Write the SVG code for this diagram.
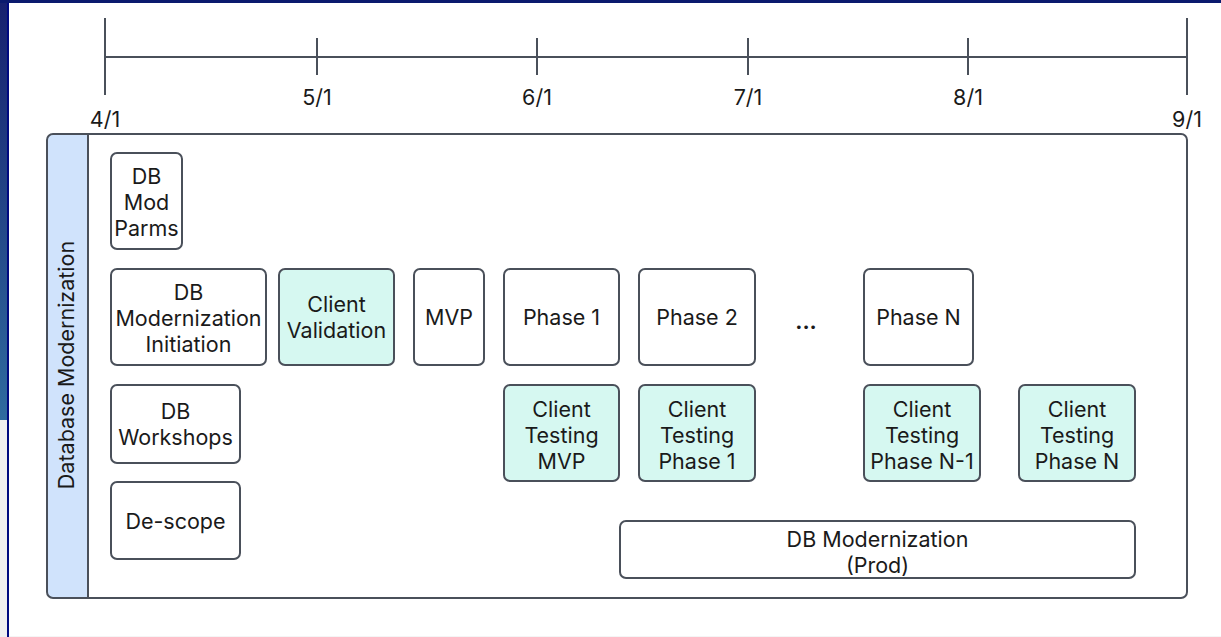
<svg xmlns="http://www.w3.org/2000/svg" width="1221" height="637" viewBox="0 0 1221 637">
  <defs>
    <linearGradient id="sideGrad" x1="0" y1="0" x2="0" y2="1">
      <stop offset="0" stop-color="#17206f"/>
      <stop offset="1" stop-color="#2f6b9f"/>
    </linearGradient>
    <style>
      .axis { stroke: #4a505a; stroke-width: 2; fill: none; }
      .node { stroke: #4a505a; stroke-width: 2; fill: #ffffff; }
      .client { fill: #d6f8f1; }
      .lbl { font-family: Inter, "Liberation Sans", sans-serif; font-size: 21.5px; fill: #1a1a1a; text-anchor: middle; }
    </style>
  </defs>

  <!-- page background and frame -->
  <rect x="0" y="0" width="1221" height="637" fill="#ffffff"/>
  <rect x="0" y="0" width="7" height="420" fill="url(#sideGrad)"/>
  <rect x="0" y="420" width="7" height="217" fill="#f0f0f0"/>
  <rect x="7" y="0" width="2" height="637" fill="#000a80"/>
  <rect x="0" y="0" width="1221" height="3" fill="#0b1a6e"/>
  <rect x="9" y="636" width="1212" height="1" fill="#f5f5f5"/>

  <!-- timeline -->
  <g id="timeline">
    <line class="axis" x1="105" y1="57" x2="1187" y2="57"/>
    <line class="axis" x1="105" y1="18" x2="105" y2="95"/>
    <line class="axis" x1="317" y1="38" x2="317" y2="75"/>
    <line class="axis" x1="537" y1="38" x2="537" y2="75"/>
    <line class="axis" x1="748" y1="38" x2="748" y2="75"/>
    <line class="axis" x1="968" y1="38" x2="968" y2="75"/>
    <line class="axis" x1="1187" y1="18" x2="1187" y2="95"/>
    <text class="lbl" x="105" y="127">4/1</text>
    <text class="lbl" x="317" y="105">5/1</text>
    <text class="lbl" x="537" y="105">6/1</text>
    <text class="lbl" x="748" y="105">7/1</text>
    <text class="lbl" x="968" y="105">8/1</text>
    <text class="lbl" x="1187" y="127">9/1</text>
  </g>

  <!-- swimlane -->
  <g id="lane">
    <path d="M88 134 H53 Q47 134 47 140 V592 Q47 598 53 598 H88 Z" fill="#d0e3fc"/>
    <rect class="axis" x="47" y="134" width="1140" height="464" rx="6"/>
    <line class="axis" x1="88" y1="134" x2="88" y2="598"/>
    <text class="lbl" transform="translate(74 365) rotate(-90)">Database Modernization</text>
  </g>

  <g id="connectors"></g>

  <g id="db-mod-parms">
    <rect class="node" x="111" y="153" width="71" height="96" rx="6"/>
    <text class="lbl" x="146.5" y="184">DB</text>
    <text class="lbl" x="146.5" y="210">Mod</text>
    <text class="lbl" x="146.5" y="236">Parms</text>
  </g>
  <g id="db-mod-initiation">
    <rect class="node" x="111" y="269" width="155" height="96" rx="6"/>
    <text class="lbl" x="188.5" y="300">DB</text>
    <text class="lbl" x="188.5" y="326">Modernization</text>
    <text class="lbl" x="188.5" y="352">Initiation</text>
  </g>
  <g id="client-validation">
    <rect class="node client" x="279" y="269" width="115" height="96" rx="6"/>
    <text class="lbl" x="336.5" y="312">Client</text>
    <text class="lbl" x="336.5" y="338">Validation</text>
  </g>
  <g id="mvp">
    <rect class="node" x="414" y="269" width="70" height="96" rx="6"/>
    <text class="lbl" x="449" y="325">MVP</text>
  </g>
  <g id="phase-1">
    <rect class="node" x="504" y="269" width="115" height="96" rx="6"/>
    <text class="lbl" x="561.5" y="325">Phase 1</text>
  </g>
  <g id="phase-2">
    <rect class="node" x="639" y="269" width="116" height="96" rx="6"/>
    <text class="lbl" x="697" y="325">Phase 2</text>
  </g>
  <g id="ellipsis">
    <text class="lbl" x="806" y="329" font-weight="bold">...</text>
  </g>
  <g id="phase-n">
    <rect class="node" x="864" y="269" width="109" height="96" rx="6"/>
    <text class="lbl" x="918.5" y="325">Phase N</text>
  </g>
  <g id="db-workshops">
    <rect class="node" x="111" y="385" width="129" height="78" rx="6"/>
    <text class="lbl" x="175.5" y="419">DB</text>
    <text class="lbl" x="175.5" y="445">Workshops</text>
  </g>
  <g id="client-testing-mvp">
    <rect class="node client" x="504" y="385" width="115" height="96" rx="6"/>
    <text class="lbl" x="561.5" y="417">Client</text>
    <text class="lbl" x="561.5" y="443">Testing</text>
    <text class="lbl" x="561.5" y="469">MVP</text>
  </g>
  <g id="client-testing-phase-1">
    <rect class="node client" x="639" y="385" width="116" height="96" rx="6"/>
    <text class="lbl" x="697" y="417">Client</text>
    <text class="lbl" x="697" y="443">Testing</text>
    <text class="lbl" x="697" y="469">Phase 1</text>
  </g>
  <g id="client-testing-phase-n-1">
    <rect class="node client" x="864" y="385" width="116" height="96" rx="6"/>
    <text class="lbl" x="922" y="417">Client</text>
    <text class="lbl" x="922" y="443">Testing</text>
    <text class="lbl" x="922" y="469">Phase N-1</text>
  </g>
  <g id="client-testing-phase-n">
    <rect class="node client" x="1019" y="385" width="116" height="96" rx="6"/>
    <text class="lbl" x="1077" y="417">Client</text>
    <text class="lbl" x="1077" y="443">Testing</text>
    <text class="lbl" x="1077" y="469">Phase N</text>
  </g>
  <g id="de-scope">
    <rect class="node" x="111" y="482" width="129" height="77" rx="6"/>
    <text class="lbl" x="175.5" y="529">De-scope</text>
  </g>
  <g id="db-mod-prod">
    <rect class="node" x="620" y="521" width="515" height="57" rx="6"/>
    <text class="lbl" x="877.5" y="547">DB Modernization</text>
    <text class="lbl" x="877.5" y="573">(Prod)</text>
  </g>
</svg>
